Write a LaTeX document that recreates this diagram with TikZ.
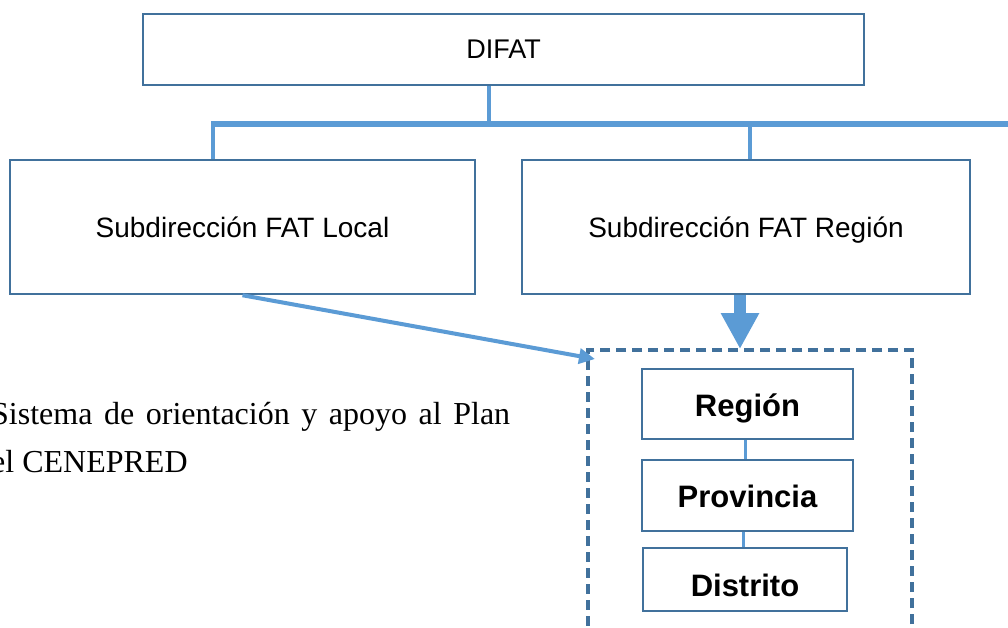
\documentclass[tikz,border=0pt]{standalone}
\usepackage{fontspec}
\setmainfont{Liberation Sans}
\newfontfamily\serifrm{Liberation Serif}
\usetikzlibrary{arrows.meta}
\definecolor{boxblue}{RGB}{65,113,156}
\definecolor{linkblue}{RGB}{91,155,213}
\begin{document}
\begin{tikzpicture}[x=1pt,y=-1pt,
 box/.style={draw=boxblue,line width=2.5pt,inner sep=0pt,rectangle,font=\fontsize{28}{32}\selectfont},
 subbox/.style={box,text height=20pt,text depth=0pt},
 lvl/.style={box,font=\bfseries\fontsize{31}{36}\selectfont,text height=26pt,text depth=1.8pt},
 link/.style={draw=linkblue,line width=4pt},
 bodytext/.style={anchor=base west,inner sep=0pt,font=\serifrm\fontsize{32}{38}\selectfont},
]
\useasboundingbox (0,0) rectangle (1008,628);
\clip (0,0) rectangle (1008,628);
\fill[white] (0,0) rectangle (1008,628);

% boxes
\node[box,minimum width=721pt,minimum height=71pt,font=\fontsize{27}{32}\selectfont] (difat) at (503.5,49.5) {DIFAT};
\node[subbox,minimum width=465pt,minimum height=134pt] (local) at (242.5,227) {Subdirección FAT Local};
\node[subbox,minimum width=448pt,minimum height=134pt] (reg) at (746,227) {Subdirección FAT Región};
\node[draw=boxblue,line width=3.5pt,dash pattern=on 10pt off 6pt,minimum width=324pt,minimum height=350pt,inner sep=0pt] (zone) at (750,525) {};
\node[lvl,minimum width=211pt,minimum height=70pt] (region) at (747.5,404) {Región};
\node[lvl,minimum width=211pt,minimum height=71pt] (prov) at (747.5,495.5) {Provincia};
\node[lvl,minimum width=204pt,minimum height=63pt,text height=33pt,text depth=0pt] (dist) at (745,579.5) {Distrito};

% text
\node[bodytext] (t1) at (-9,424) {\makebox[519pt][s]{Sistema de orientación y apoyo al Plan}};
\node[bodytext] (t2) at (-9,472) {el CENEPRED};

% connectors
\coordinate (bus) at (489,124);
\coordinate (busL) at (213,124);
\coordinate (busM) at (750,124);
\coordinate (busR) at (1015,124);
\draw[link] (difat.south -| bus) -- (bus);
\draw[link,line width=5.5pt] ([xshift=-2pt]busL) -- (busR);
\draw[link] (busL) -- (busL |- local.north);
\draw[link] (busM) -- (busM |- reg.north);

\coordinate (c1) at (745,0);
\coordinate (c2) at (743,0);
\draw[link,line width=3pt] (c1 |- region.south) -- (c1 |- prov.north);
\draw[link,line width=3pt] (c2 |- prov.south) -- (c2 |- dist.north);

\coordinate (tipB) at (740,349);
\draw[linkblue,line width=11.7pt,-{Triangle[width=36pt,length=36pt]}] (reg.south -| tipB) -- (tipB);

\coordinate (tipA) at (595,359);
\draw[linkblue,line width=4pt,-{Triangle[width=15pt,length=16pt]}] (local.south) -- (tipA);
\end{tikzpicture}
\end{document}
